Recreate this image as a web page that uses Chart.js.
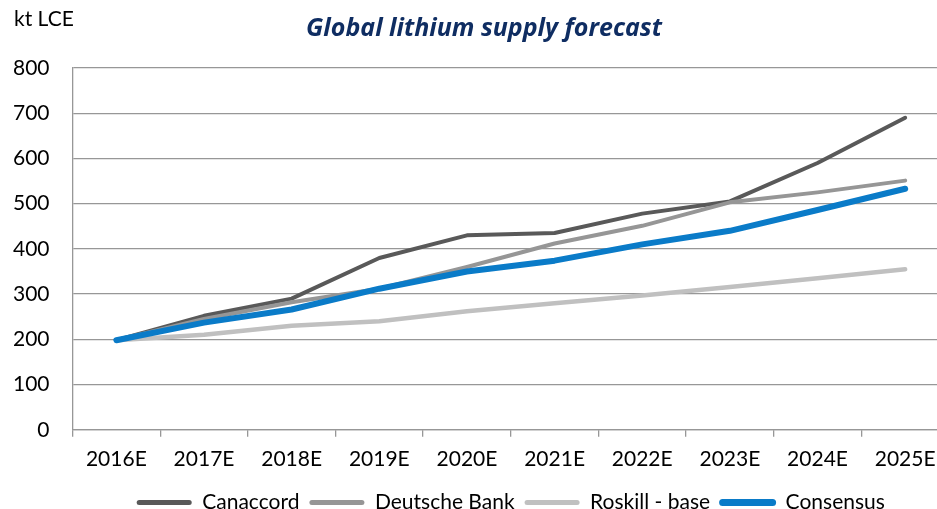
<!DOCTYPE html>
<html>
<head>
<meta charset="utf-8">
<script src="https://cdn.jsdelivr.net/npm/chart.js@4/dist/chart.umd.min.js"></script>
<style>
  html, body { margin: 0; padding: 0; background: #fff; overflow: hidden; }
  #wrap { position: absolute; left: 0; top: 0; width: 949px; height: 509px; }
</style>
</head>
<body>
<div id="wrap"><canvas id="myLineChart" width="949" height="509"></canvas></div>
<script>
var years = ["2016E", "2017E", "2018E", "2019E", "2020E", "2021E", "2022E", "2023E", "2024E", "2025E"];
var canaccord = [198, 252, 290, 380, 430, 435, 478, 505, 590, 690];
var deutscheBank = [198, 245, 282, 312, 360, 412, 451, 503, 525, 551];
var roskillBase = [198, 210, 230, 240, 262, 280, 297, 316, 335, 355];
var consensus = [198, 237, 266, 312, 350, 374, 410, 440, 486, 533];
var yTicks = [0, 100, 200, 300, 400, 500, 600, 700, 800];

var FONT = "Lato";
var gridGrey = "#979797";

// unit label top left, legend centred under the plot area, title nudged right
var unitLabel = {
  id: "unitLabel",
  afterLayout: function(chart) {
    chart.legend.left = chart.chartArea.left;
    chart.legend.right = chart.chartArea.right;
    chart.titleBlock.left = 19;
    chart.titleBlock.right = chart.width;
  },
  afterDraw: function(chart) {
    var c = chart.ctx;
    c.save();
    c.font = "21px " + FONT;
    c.fillStyle = "#000";
    c.textBaseline = "middle";
    c.textAlign = "left";
    c.fillText("kt LCE", 14, 19);
    c.restore();
  }
};

function series(label, data, color, width, order) {
  return {
    label: label,
    data: data,
    borderColor: color,
    backgroundColor: color,
    borderWidth: width,
    borderCapStyle: "round",
    borderJoinStyle: "round",
    pointRadius: 0,
    tension: 0,
    order: order
  };
}

var ctx = document.getElementById("myLineChart");
var myLineChart = new Chart(ctx, {
  type: "line",
  data: {
    labels: years,
    datasets: [
      series("Canaccord", canaccord, "#595959", 4, 3),
      series("Deutsche Bank", deutscheBank, "#969696", 4, 2),
      series("Roskill - base", roskillBase, "#c0c0c0", 4.5, 1),
      series("Consensus", consensus, "#0a7bc8", 6, 0)
    ]
  },
  options: {
    responsive: false,
    animation: false,
    devicePixelRatio: 1,
    layout: { padding: { left: -10, right: 0, top: 0, bottom: -14 } },
    plugins: {
      title: {
        display: true,
        text: "Global lithium supply forecast",
        color: "#0f2d62",
        font: { family: "Open Sans", size: 25, weight: "bold", style: "italic" },
        padding: { top: 14, bottom: 24 }
      },
      legend: {
        position: "bottom",
        labels: {
          font: { family: FONT, size: 21 },
          color: "#000",
          boxWidth: 55,
          boxHeight: 5,
          useBorderRadius: true,
          borderRadius: 2.5,
          padding: 10,
          sort: function(a, b) { return a.datasetIndex - b.datasetIndex; },
          generateLabels: function(chart) {
            var items = Chart.defaults.plugins.legend.labels.generateLabels(chart);
            items.forEach(function(it) {
              it.lineWidth = it.datasetIndex === 3 ? 2 : 0;
            });
            return items;
          }
        }
      },
      tooltip: { enabled: false }
    },
    scales: {
      x: {
        offset: true,
        grid: {
          display: true,
          offset: true,
          drawOnChartArea: false,
          drawTicks: true,
          tickLength: 7,
          color: gridGrey,
          lineWidth: 1.3
        },
        border: { color: gridGrey, width: 1.3 },
        ticks: {
          font: { family: FONT, size: 21 },
          color: "#000",
          padding: 10,
          maxRotation: 0
        }
      },
      y: {
        min: 0,
        max: 800,
        afterBuildTicks: function(axis) {
          axis.ticks = yTicks.map(function(v) { return { value: v }; });
        },
        grid: {
          color: gridGrey,
          lineWidth: 1.3,
          drawTicks: false
        },
        border: { color: gridGrey, width: 1.3 },
        ticks: {
          font: { family: FONT, size: 21 },
          color: "#000",
          padding: 23
        }
      }
    }
  },
  plugins: [unitLabel]
});
</script>
</body>
</html>
